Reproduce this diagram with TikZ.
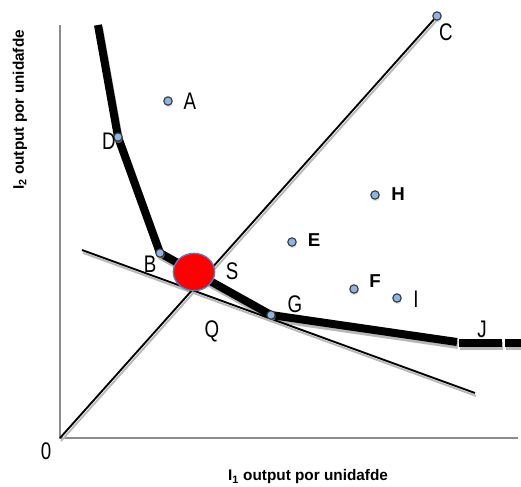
\documentclass[tikz,border=0pt]{standalone}
\usepackage{fontspec}
\setmainfont{Liberation Sans}
\newfontfamily\narrowfont{Liberation Sans}[FakeStretch=0.78]
\usetikzlibrary{positioning,shapes.geometric,shadows,backgrounds}
\definecolor{dotblue}{HTML}{8EB4E3}
\definecolor{rimblue}{HTML}{4F81BD}

\begin{document}
\begin{tikzpicture}[x=0.75pt, y=-0.75pt, every node/.style={inner sep=0pt},
	pt/.style={draw=black!80, fill=dotblue, circle, minimum size=6.3pt, line width=0.8pt, drop shadow={shadow xshift=0.4pt, shadow yshift=-1.5pt, fill=black!25}},
	lbl/.style={font=\narrowfont\fontsize{18}{20}\selectfont},
	blbl/.style={font=\bfseries\fontsize{14}{16}\selectfont},
	axlbl/.style={font=\bfseries\fontsize{11.5}{13}\selectfont},
	ghost/.style={draw=black!28, transform canvas={shift={(0.8pt,-2.2pt)}}},
	iso/.style={line width=6pt, line join=round}]
	\useasboundingbox (0,0) rectangle (521,486);
	% points of the isoquant and the other bundles
	\node[pt] (D) at (118,137) {};
	\node[pt] (B) at (160,253) {};
	\node[pt] (G) at (271,315) {};
	\node[pt] (C) at (437,16) {};
	\node[pt] (A) at (168,101) {};
	\node[pt] (E) at (292,242) {};
	\node[pt] (H) at (375,195) {};
	\node[pt] (F) at (354,289) {};
	\node[pt] (I) at (397,298) {};
	\node[ellipse, draw=rimblue, fill=red, line width=1pt, minimum width=31pt, minimum height=28pt] (S) at (194,272) {};
	\coordinate (O) at (60,438);
	\coordinate (ytop) at (60,25);
	\coordinate (xend) at (518,438);
	\coordinate (top) at (98,25);
	\coordinate (jend) at (457,342);
	\coordinate (j1) at (459,343);
	\coordinate (j2) at (521,343);
	\coordinate (t1) at (82,250);
	\coordinate (t2) at (475,393);
	\begin{scope}[on background layer]
		\draw[black!45, line width=1pt] (ytop) -- (O) -- (xend);
		\draw[ghost, line width=1.4pt] (O) -- (C.center);
		\draw[ghost, line width=1.4pt] (t1) -- (t2);
		\draw[ghost, iso] (top) -- (D.center) -- (B.center) -- (S.center) -- (G.center) -- (jend);
		\draw[ghost, iso, dash pattern=on 32.5pt off 2.3pt] (j1) -- (j2);
		\draw[line width=1.4pt] (O) -- (C.center);
		\draw[line width=1.4pt] (t1) -- (t2);
		\draw[iso] (top) -- (D.center) -- (B.center) -- (S.center) -- (G.center) -- (jend);
		\draw[iso, dash pattern=on 32.5pt off 2.3pt] (j1) -- (j2);
	\end{scope}
	% letters
	\node[lbl, right=8pt of A] (lA) {A};
	\node[lbl] (lC) at (446,32) {C};
	\node[lbl] (lD) at (109,141) {D};
	\node[lbl] (lB) at (150,264) {B};
	\node[lbl] (lS) at (232,271) {S};
	\node[lbl] (lQ) at (212,331) {Q};
	\node[lbl] (lG) at (295,304) {G};
	\node[lbl] (lI) at (416,299) {I};
	\node[lbl] (lJ) at (482,329) {J};
	\node[lbl] (lO) at (46,451) {0};
	\node[blbl] (lE) at (314,240) {E};
	\node[blbl] (lH) at (398,194) {H};
	\node[blbl] (lF) at (375,281) {F};
	\node[axlbl, rotate=90] (ylab) at (20,110) {I\textsubscript{2} output por unidafde};
	\node[axlbl] (xlab) at (308,477) {I\textsubscript{1} output por unidafde};
\end{tikzpicture}
\end{document}
